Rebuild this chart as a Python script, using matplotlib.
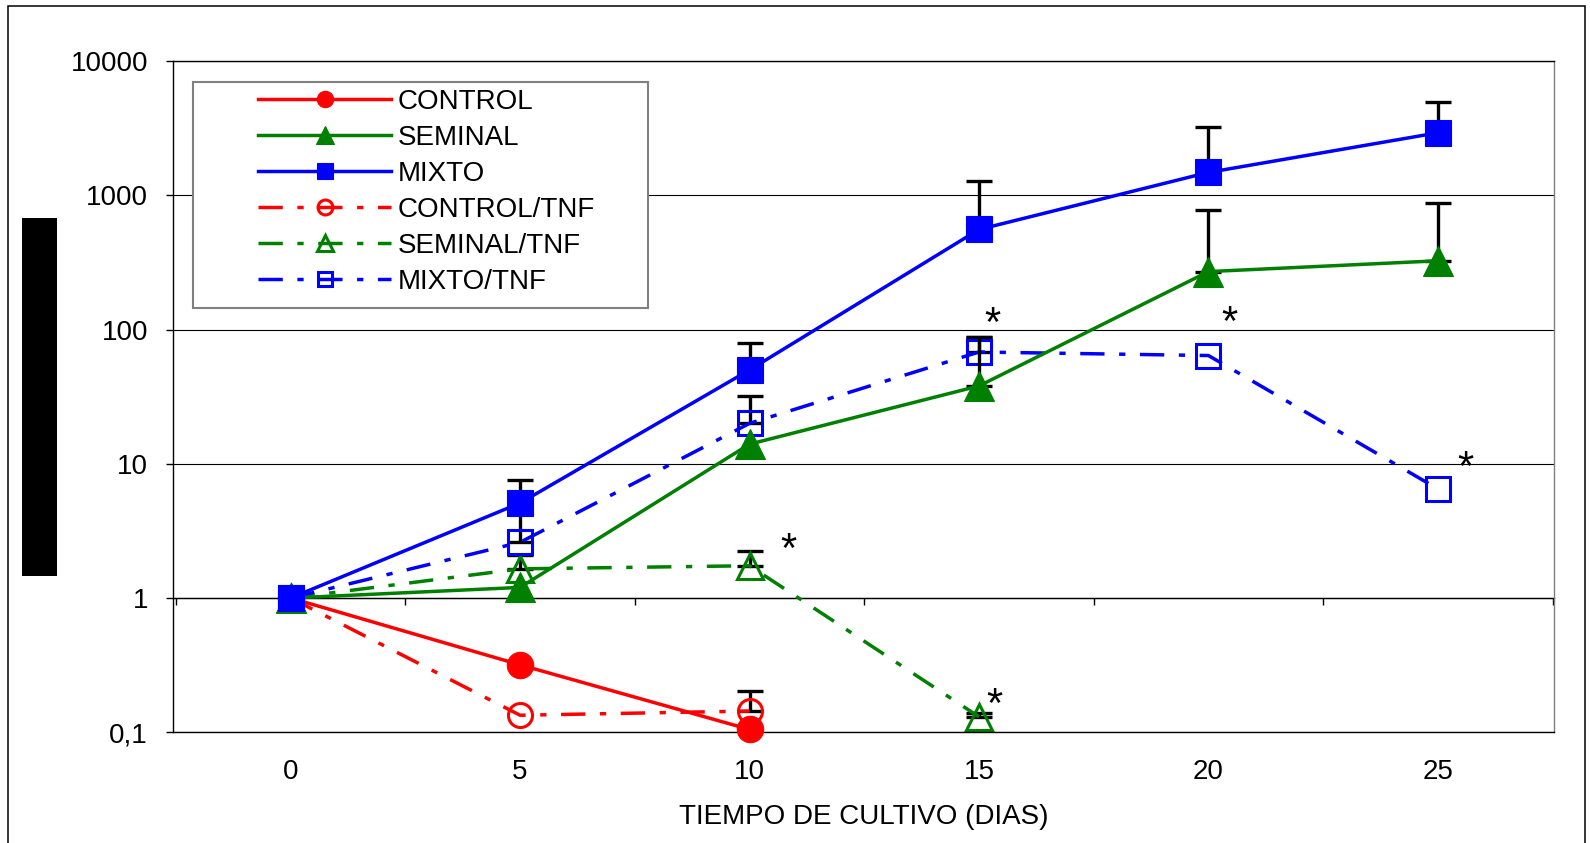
import numpy as np
import matplotlib
matplotlib.use('Agg')
import matplotlib.pyplot as plt
from matplotlib.patches import Rectangle
from matplotlib.ticker import NullLocator

plt.rcParams['font.family'] = ['Liberation Sans', 'DejaVu Sans']

nan = np.nan
dias = [0, 5, 10, 15, 20, 25]
dia_labels = ['0', '5', '10', '15', '20', '25']

# valores medios (escala log)
control = [1, 0.318, 0.105, nan, nan, nan]
seminal = [1, 1.2, 14, 38, 270, 325]
mixto = [1, 5.1, 50, 556, 1480, 2920]
control_tnf = [1, 0.134, 0.144, nan, nan, nan]
seminal_tnf = [1, 1.65, 1.74, 0.1305, nan, nan]
mixto_tnf = [1, 2.6, 20, 68, 64, 6.5]

# extremo superior de la barra de error (nan = sin barra)
control_top = [nan, nan, nan, nan, nan, nan]
seminal_top = [nan, nan, nan, 88, 776, 880]
mixto_top = [nan, 7.6, 80, 1268, 3200, 4910]
control_tnf_top = [nan, nan, 0.203, nan, nan, nan]
seminal_tnf_top = [nan, 2.09, 2.24, 0.139, nan, nan]
mixto_tnf_top = [nan, 4.9, 31.8, 88, nan, nan]

y_ticks = [0.1, 1, 10, 100, 1000, 10000]
y_labels = ['0,1', '1', '10', '100', '1000', '10000']

# asteriscos: (serie, indice del dia)
asteriscos = [('MIXTO/TNF', 3), ('MIXTO/TNF', 4), ('MIXTO/TNF', 5),
              ('SEMINAL/TNF', 2), ('SEMINAL/TNF', 3)]
ast_offset = {('MIXTO/TNF', 3): (10, 19.5), ('MIXTO/TNF', 4): (15, 22.5),
              ('MIXTO/TNF', 5): (19.5, 14), ('SEMINAL/TNF', 2): (28, 10.5),
              ('SEMINAL/TNF', 3): (11, 7.5)}

RED, GREEN, BLUE = '#FF0000', '#008000', '#0000FF'
dashdot = (0, (7, 4.2, 1.8, 4.2))

series = [
    ('CONTROL', control, control_top, RED, 'o', True, 19),
    ('SEMINAL', seminal, seminal_top, GREEN, '^', True, 21.5),
    ('MIXTO', mixto, mixto_top, BLUE, 's', True, 18.7),
    ('CONTROL/TNF', control_tnf, control_tnf_top, RED, 'o', False, 17.3),
    ('SEMINAL/TNF', seminal_tnf, seminal_tnf_top, GREEN, '^', False, 18.5),
    ('MIXTO/TNF', mixto_tnf, mixto_tnf_top, BLUE, 's', False, 17.3),
]

W, H = 1590, 843
fig = plt.figure(figsize=(W / 100, H / 100), dpi=100)
ax = fig.add_axes([172.7 / W, 1 - 732.3 / H, (1554 - 172.7) / W, (732.3 - 61) / H])

ax.set_yscale('log')
ax.set_ylim(0.1, 10000)
ax.set_xlim(-2.57, 27.53)

handles = []
data = {}
for name, vals, top, col, mk, filled, ms in series:
    x = np.array(dias, dtype=float)
    y = np.array(vals, dtype=float)
    t = np.array(top, dtype=float)
    z = 3 if filled else 2
    data[name] = y
    m = ~np.isnan(t)
    if m.any():
        ax.errorbar(x[m], y[m], yerr=[np.zeros(m.sum()), t[m] - y[m]], fmt='none',
                    ecolor='black', elinewidth=2.4, capsize=9.7, capthick=2.4, zorder=z - 0.1)
    ok = ~np.isnan(y)
    ln, = ax.plot(x[ok], y[ok], color=col, lw=2.5,
                  linestyle='-' if filled else dashdot,
                  marker=mk, markersize=ms,
                  markerfacecolor=col if filled else 'none',
                  markeredgecolor=col, markeredgewidth=0.8 if filled else 2.2,
                  label=name, zorder=z, clip_on=False)
    handles.append(ln)

for key in asteriscos:
    name, i = key
    dx, dy = ast_offset[key]
    ax.annotate('*', xy=(dias[i], data[name][i]), xytext=(dx, dy),
                textcoords='offset points', ha='center', va='center',
                fontsize=30, color='black', zorder=6)

ax.set_yticks(y_ticks)
ax.set_yticklabels(y_labels)
ax.yaxis.set_minor_locator(NullLocator())
ax.tick_params(axis='y', direction='out', length=5, width=1, pad=12.8, labelsize=20)
ax.set_xticks(dias)
ax.set_xticklabels(dia_labels)
ax.tick_params(axis='x', length=0, pad=19.5, labelsize=20)
ax.grid(axis='y', which='major', color='black', lw=0.8, zorder=0)
ax.set_axisbelow(True)

for s in ['left', 'bottom', 'top']:
    ax.spines[s].set_color('black')
    ax.spines[s].set_linewidth(1.0)
ax.spines['right'].set_color('#808080')
ax.spines['right'].set_linewidth(1.0)

# eje de categorias cruzando en y = 1
pos1 = (np.log10(1) - np.log10(0.1)) / (np.log10(10000) - np.log10(0.1))
sec = ax.secondary_xaxis(pos1)
sec.set_xticks(np.arange(-2.5, 28, 5))
sec.tick_params(direction='out', length=5, width=1, labelbottom=False, labeltop=False)
sec.spines['bottom'].set_color('black')
sec.spines['bottom'].set_linewidth(1.0)

ax.set_xlabel('TIEMPO DE CULTIVO (DIAS)', fontsize=20)
ax.xaxis.set_label_coords(0.5, (732.3 - 804) / (732.3 - 61))

# leyenda
ax.add_patch(Rectangle((193 / W, 1 - 308 / H), 455 / W, 226 / H, transform=fig.transFigure,
                       facecolor='white', edgecolor='#808080', lw=1.5, zorder=4.5, clip_on=False))
ax.legend(handles=handles, loc='upper left', bbox_to_anchor=(258 / W, 1 - 89 / H),
          bbox_transform=fig.transFigure, frameon=False, borderpad=0, borderaxespad=0,
          handlelength=4.8, handletextpad=0.22, labelspacing=0.36, markerscale=0.62,
          fontsize=20)

# marco exterior y bloque negro (etiqueta tapada)
fig.patches.append(Rectangle((8 / W, -0.05), (1585 - 8) / W, (843 - 6) / H + 0.05,
                             transform=fig.transFigure, fill=False, edgecolor='black', lw=1.1))
fig.patches.append(Rectangle((22 / W, 1 - 576 / H), 35 / W, 358 / H,
                             transform=fig.transFigure, facecolor='black', edgecolor='none'))

fig.savefig('out.png', dpi=100)
